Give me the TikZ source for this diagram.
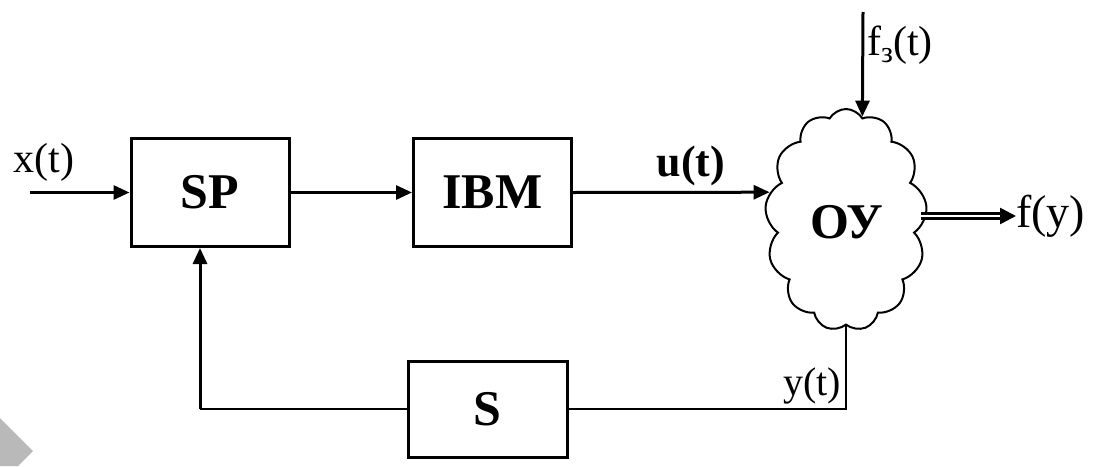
\documentclass[tikz,border=0pt]{standalone}
\usepackage{fontspec}
\setmainfont{Liberation Serif}
\usetikzlibrary{shapes.symbols,arrows.meta}
\tikzset{
  blk/.style={draw, line width=3pt, minimum width=158pt, minimum height=108pt, font=\fontsize{50}{52}\selectfont\bfseries, inner sep=0pt},
  lbl/.style={font=\fontsize{42}{44}\selectfont, inner sep=0pt},
  conn/.style={line width=3pt, -{Triangle[length=16pt,width=14pt]}},
  plain/.style={line width=2.6pt},
}
\begin{document}
\begin{tikzpicture}[x=1pt,y=-1pt]
\useasboundingbox (0,0) rectangle (1097,466);
\fill[gray!55] (0,418) -- (33,451) -- (18,466) -- (0,466) -- cycle;
\node[blk] (sp) at (210,192.5) {SP};
\node[blk] (ibm) at (492.5,192.5) {IBM};
\node[blk, minimum width=159pt, minimum height=96pt] (s) at (487.5,409) {S};
\node[draw, cloud, cloud puffs=13, cloud puff arc=120, cloud ignores aspect, minimum width=162pt, minimum height=222pt, line width=2pt, inner sep=0pt] (oy) at (846,220) {};
\node[font=\fontsize{50}{52}\selectfont\bfseries, inner sep=0pt] (oyt) at (847,222) {ОУ};
\coordinate (xin) at (30,192.5);
\node[lbl] (xt) at (44,162) {x(t)};
\node[lbl, font=\fontsize{44}{46}\selectfont\bfseries] (ut) at (691,166) {u(t)};
\coordinate (fztop) at (863,12);
\node[lbl, anchor=west] (fz) at (867,45) {f\raisebox{-7pt}{\fontsize{30}{30}\selectfont з}(t)};
\node[font=\fontsize{46}{48}\selectfont, inner sep=0pt, anchor=west] (fy) at (1016,216) {f(y)};
\node[lbl, font=\fontsize{40}{42}\selectfont] (yt) at (812,386) {y(t)};
\coordinate (spin) at ([xshift=-10pt]sp.south);
\coordinate (corner1) at (oy.south |- s.east);
\coordinate (corner2) at (spin |- s.west);
\coordinate (dstart) at (fy.west -| oy.east);
\draw[conn] (xin) -- (sp.west);
\draw[conn] (sp.east) -- (ibm.west);
\draw[conn] (ibm.east) -- (oy.160);
\draw[conn] (fztop) -- (oy.81);
\draw[line width=2.4pt, double distance=2.4pt, -{Triangle[length=16pt,width=16pt]}] ([xshift=-4pt]dstart) -- (fy.west);
\draw[plain] (oy.south) -- (corner1) -- (s.east);
\draw[plain] (s.west) -- (corner2);
\draw[conn] (corner2) -- (spin);
\end{tikzpicture}
\end{document}
